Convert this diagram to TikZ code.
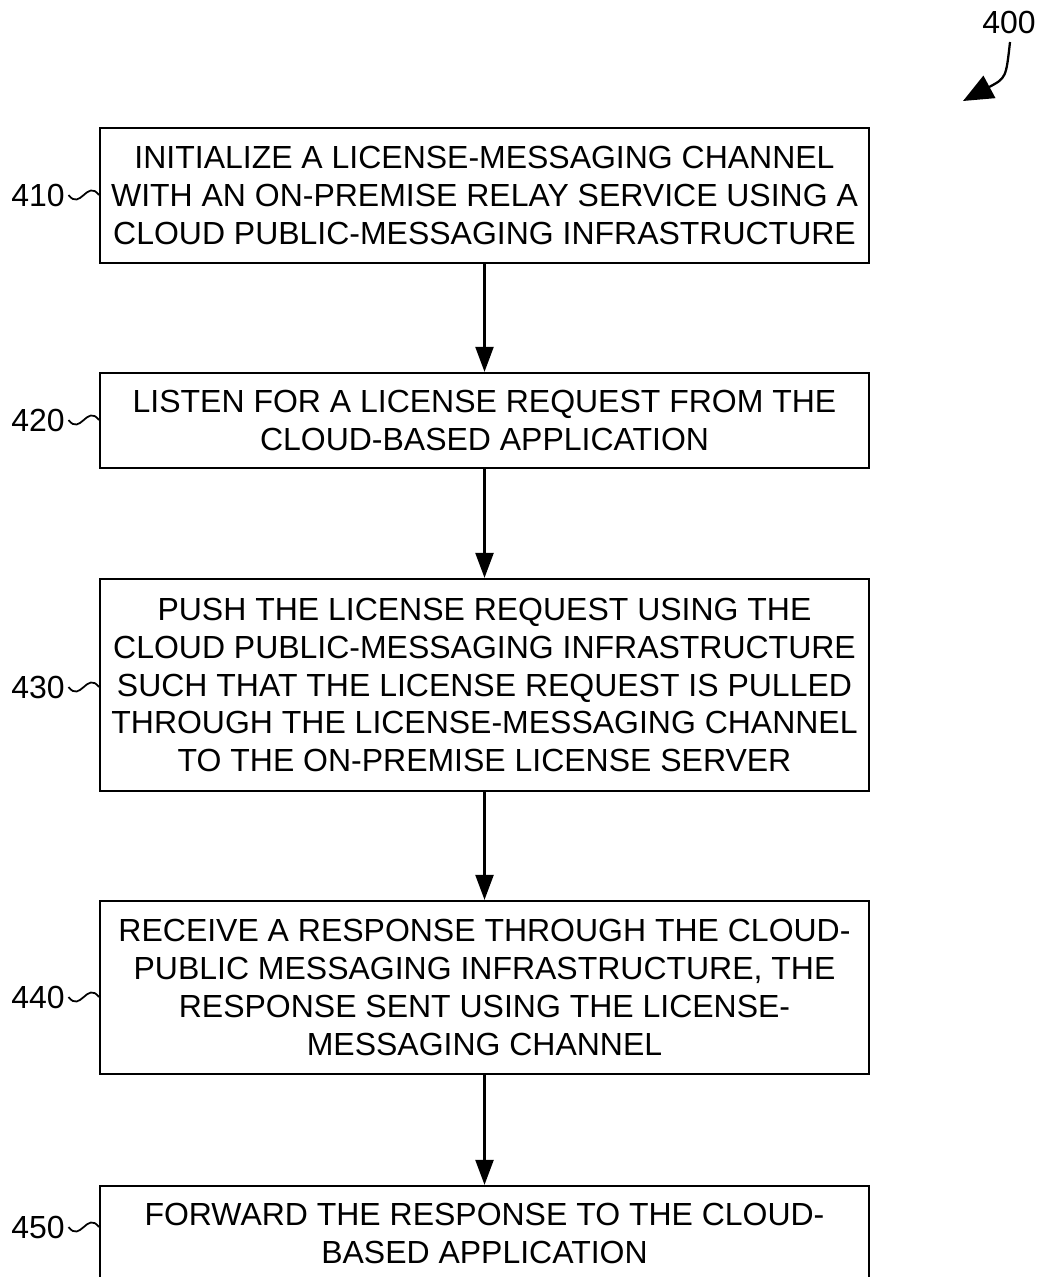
\documentclass[tikz,border=0pt]{standalone}
\usepackage{fontspec}
\setmainfont{Liberation Sans}
\usetikzlibrary{arrows.meta}
\tikzset{
  stepbox/.style={draw,line width=1.3pt,minimum width=15.38cm,align=center,
    inner sep=0pt,font=\fontsize{18.2}{21.6}\selectfont},
  refnum/.style={anchor=east,inner sep=0pt,font=\fontsize{18.2}{21.6}\selectfont},
  flow/.style={line width=1.3pt,-{Triangle[length=5mm,width=3.6mm]}},
  squig/.style={line width=1pt}
}
\begin{document}
\begin{tikzpicture}[x=0.02cm,y=-0.02cm]
   \useasboundingbox (0,0) rectangle (1043,1277);
   \clip (0,0) rectangle (1043,1277);

   \node[stepbox,minimum height=2.7cm]  (b410) at (484.5,195.5)
      {INITIALIZE A LICENSE-MESSAGING CHANNEL\\WITH AN ON-PREMISE RELAY SERVICE USING A\\CLOUD PUBLIC-MESSAGING INFRASTRUCTURE};
   \node[stepbox,minimum height=1.9cm]  (b420) at (484.5,420.5)
      {LISTEN FOR A LICENSE REQUEST FROM THE\\CLOUD-BASED APPLICATION};
   \node[stepbox,minimum height=4.24cm] (b430) at (484.5,685)
      {PUSH THE LICENSE REQUEST USING THE\\CLOUD PUBLIC-MESSAGING INFRASTRUCTURE\\SUCH THAT THE LICENSE REQUEST IS PULLED\\THROUGH THE LICENSE-MESSAGING CHANNEL\\TO THE ON-PREMISE LICENSE SERVER};
   \node[stepbox,minimum height=3.46cm] (b440) at (484.5,987.5)
      {RECEIVE A RESPONSE THROUGH THE CLOUD-\\PUBLIC MESSAGING INFRASTRUCTURE, THE\\RESPONSE SENT USING THE LICENSE-\\MESSAGING CHANNEL};
   \node[stepbox,minimum height=1.9cm]  (b450) at (484.5,1233.5)
      {FORWARD THE RESPONSE TO THE CLOUD-\\BASED APPLICATION};

   % reference numerals
   \node[refnum] (l410) at (65,195)  {410};
   \node[refnum] (l420) at (65,420)  {420};
   \node[refnum] (l430) at (65,687)  {430};
   \node[refnum] (l440) at (65,997)  {440};
   \node[refnum] (l450) at (65,1227) {450};
   \foreach \n in {410,420,430,440,450}
      \draw[squig] ([xshift=2pt]l\n.east) .. controls +(12,16) and +(-12,-16) .. (b\n.west |- l\n.east);

   \node[refnum] (l400) at (1036,22) {400};
   \coordinate (tip400) at (963,101);
   \draw[line width=1.3pt,-{Triangle[length=6mm,width=5mm]}] (1010,42) .. controls (1006,78) .. (tip400);

   \draw[flow] (b410) -- (b420);
   \draw[flow] (b420) -- (b430);
   \draw[flow] (b430) -- (b440);
   \draw[flow] (b440) -- (b450);
\end{tikzpicture}
\end{document}
